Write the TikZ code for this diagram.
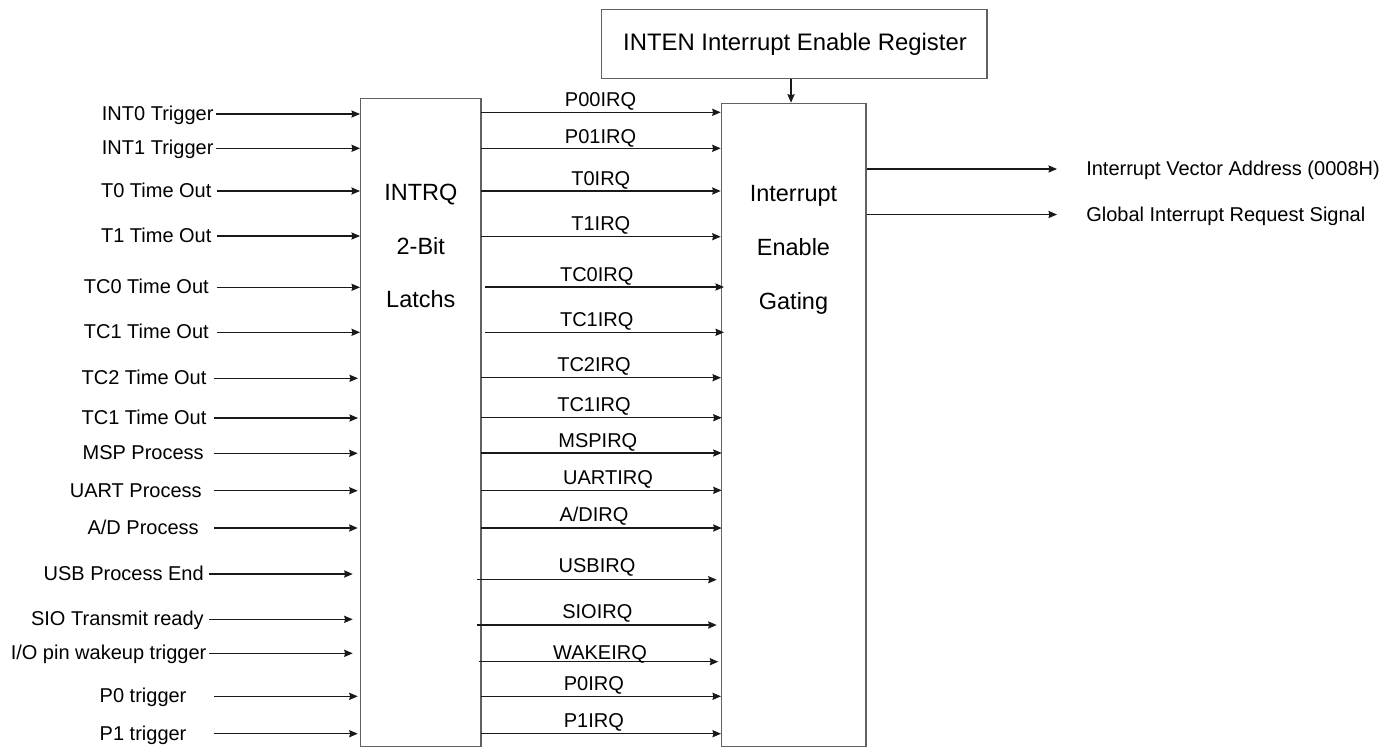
\documentclass[tikz,border=0pt]{standalone}
\usepackage{fontspec}
\setmainfont{Liberation Sans}
\usetikzlibrary{arrows.meta,fit}
\begin{document}
\begin{tikzpicture}[x=0.75pt,y=-0.75pt,
  boxline/.style={draw=black!62, line width=0.85pt, inner sep=0pt},
  arr/.style={draw=black!90, line width=0.8pt, -{Stealth[length=6.4pt,width=5.4pt,inset=0.7pt]}},
  lbl/.style={font=\fontsize{15}{18}\selectfont, inner sep=0pt},
  big/.style={font=\fontsize{17.6}{21}\selectfont, inner sep=0pt, anchor=base},
]
\useasboundingbox (0,0) rectangle (1399,747);

% boxes
\coordinate (l1) at (360.7,98.3);  \coordinate (l2) at (481,746.8);
\coordinate (g1) at (721.7,103.3); \coordinate (g2) at (866,746.8);
\coordinate (r1) at (601.7,9.3);   \coordinate (r2) at (987,78.3);
\node[boxline, fit=(l1)(l2)] (latch) {};
\node[boxline, fit=(g1)(g2)] (gate) {};
\node[boxline, fit=(r1)(r2)] (inten) {};

\node[big, font=\fontsize{17.9}{21}\selectfont] (intent) at (795,50) {INTEN Interrupt Enable Register};
\node[big] (lt1) at (420.8,200) {INTRQ};
\node[big] (lt2) at (420.8,254) {2-Bit};
\node[big] (lt3) at (420.8,307.3) {Latchs};
\node[big] (gt1) at (793.5,201.7) {Interrupt};
\node[big] (gt2) at (793.5,255.7) {Enable};
\node[big] (gt3) at (793.5,309.3) {Gating};

\draw[arr] ([xshift=-2.5pt]inten.south) -- ([xshift=-2.5pt]inten.south |- gate.north);

% inputs
\foreach \i/\y/\xr/\xs/\xe/\t in {
  1/114/213.7/216/360/{INT0 Trigger},
  2/148.3/213.7/216/360/{INT1 Trigger},
  3/191/211.7/216.5/360/{T0 Time Out},
  4/236/211.7/216.5/360/{T1 Time Out},
  5/287.3/209/216.7/360/{TC0 Time Out},
  6/332.3/209/216.7/360/{TC1 Time Out},
  7/378.3/206.7/214/358/{TC2 Time Out},
  8/418/206.7/214/358/{TC1 Time Out},
  9/453.3/204/214/357.7/{MSP Process},
  10/490.7/202/214/357.7/{UART Process},
  11/528/199/214/357.7/{A/D Process},
  12/574/204/209/352.7/{USB Process End},
  13/619.3/204/209/352.7/{SIO Transmit ready},
  14/653.3/206.7/209/352.7/{I/O pin wakeup trigger},
  15/696.3/186.7/214/357.7/{P0 trigger},
  16/733.7/186.7/214/357.7/{P1 trigger}} {
  \node[lbl, anchor=base east] (in\i) at (\xr,\y+6.5) {\t};
  \coordinate (ins\i) at (\xs,\y);
  \coordinate (ine\i) at (\xe,\y);
  \draw[arr] (ins\i) -- (ine\i);
}

% IRQ lines
\foreach \i/\y/\xs/\xe/\cx/\b/\t in {
  1/112.3/481/720.7/600.5/106.7/{P00IRQ},
  2/148.3/481/720.7/600.5/143.3/{P01IRQ},
  3/191/481/720.7/600.8/185/{T0IRQ},
  4/236.7/481/720.7/600.8/230.5/{T1IRQ},
  5/287/485/724/596.7/281.7/{TC0IRQ},
  6/332.3/485/724/596.7/326.3/{TC1IRQ},
  7/377.7/481/721/594/371.7/{TC2IRQ},
  8/417.7/481/721.7/594/411.3/{TC1IRQ},
  9/453/481/721.7/597.8/447.3/{MSPIRQ},
  10/490.3/481/721.7/608/484.3/{UARTIRQ},
  11/528/481/721.7/594/521.5/{A/DIRQ},
  12/579.7/477.3/716.7/597/572.7/{USBIRQ},
  13/625/477.3/716.7/597.3/618.3/{SIOIRQ},
  14/661.7/479.3/718.3/600/659.3/{WAKEIRQ},
  15/696.3/481/721/593.8/690.2/{P0IRQ},
  16/733.7/481/721/593.8/727.7/{P1IRQ}} {
  \coordinate (qs\i) at (\xs,\y);
  \coordinate (qe\i) at (\xe,\y);
  \draw[arr] (qs\i) -- (qe\i);
  \node[lbl, anchor=base] (q\i) at (\cx,\b) {\t};
}

% outputs
\coordinate (oe1) at (1057,169);
\coordinate (oe2) at (1057,214.5);
\draw[arr] (gate.east |- oe1) -- (oe1);
\draw[arr] (gate.east |- oe2) -- (oe2);
\node[lbl, anchor=base west] (out1) at (1086,175.5) {Interrupt Vector Address (0008H)};
\node[lbl, anchor=base west] (out2) at (1086,221) {Global Interrupt Request Signal};
\end{tikzpicture}
\end{document}
